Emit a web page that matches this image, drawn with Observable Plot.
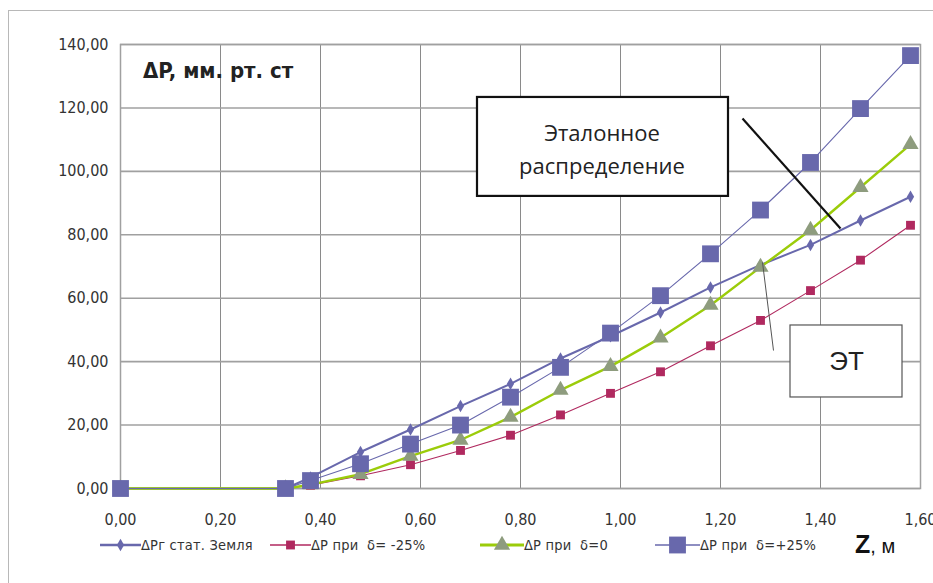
<!DOCTYPE html>
<html>
<head>
<meta charset="utf-8">
<script src="https://cdn.jsdelivr.net/npm/d3@7"></script>
<script src="https://cdn.jsdelivr.net/npm/@observablehq/plot@0.6"></script>
<style>
  html, body { margin: 0; padding: 0; background: #fff; }
  #wrap { position: relative; width: 933px; height: 583px; overflow: hidden; }
  #border { position: absolute; left: 8px; top: 10px; width: 940px; height: 590px; border: 1.5px solid #b8b8b8; box-sizing: border-box; }
  #chart { position: absolute; left: 0; top: 0; }
  #legend { position: absolute; left: 0; top: 532px; width: 933px; height: 30px; font-family: "DejaVu Sans Condensed", sans-serif; font-size: 14.5px; color: #333; letter-spacing: 0.2px; }
  .item { position: absolute; top: 0; display: flex; align-items: center; height: 26px; }
  #zlab { position: absolute; left: 855px; top: 530px; font-family: "Liberation Sans", Arial, sans-serif; color: #111; }
</style>
</head>
<body>
<div id="wrap">
  <div id="border"></div>
  <div id="chart"></div>
  <div id="legend"></div>
  <div id="zlab"><span style="font-size:25px;font-weight:bold;">Z</span><span style="font-size:20px;">, м</span></div>
</div>
<script>
// ---- data ----
const zValues = [0, 0.33, 0.38, 0.48, 0.58, 0.68, 0.78, 0.88, 0.98, 1.08, 1.18, 1.28, 1.38, 1.48, 1.58];
const earth   = [0, 0, 3.5, 11.5, 18.6, 26, 33, 41, 48, 55.5, 63.4, 70.5, 76.8, 84.5, 92];
const minus25 = [0, 0, 1, 4, 7.5, 12, 16.8, 23.2, 30, 36.8, 45, 53, 62.4, 72, 83];
const zero    = [0, 0, 1.2, 4.5, 10.2, 15.3, 22.5, 31, 38.5, 47.5, 57.8, 69.8, 81.5, 95, 108.5];
const plus25  = [0, 0, 2.5, 7.8, 14, 20, 28.8, 38.2, 49, 60.8, 74, 87.8, 102.8, 119.8, 136.5];
const seriesNames = ["ΔPг стат. Земля", "ΔP при  δ= -25%", "ΔP при  δ=0", "ΔP при  δ=+25%"];
const xTicks = [0, 0.2, 0.4, 0.6, 0.8, 1.0, 1.2, 1.4, 1.6];
const yTicks = [0, 20, 40, 60, 80, 100, 120, 140];
const yLabel = "ΔP, мм. рт. ст";
const boxLabels = ["Эталонное\nраспределение", "ЭТ"];

const styles = [
  {stroke: "#6868ac", width: 2,   symbol: "diamond", fill: "#6868ac", r: 3.8},
  {stroke: "#b0295f", width: 1.1, symbol: "square",  fill: "#b0295f", r: 5},
  {stroke: "#9bcc0a", width: 2.4, symbol: "triangle", fill: "#8e9c7e", r: 6},
  {stroke: "#6868ac", width: 1.1, symbol: "square",  fill: "#6868ac", r: 9.5}
];
const seriesValues = [earth, minus25, zero, plus25];
const rows = seriesValues.map((vals, i) => zValues.map((z, j) => ({z, v: vals[j], s: i})));

const fmt = d => d.toFixed(2).replace(".", ",");
const font = '"DejaVu Sans Condensed", sans-serif';

// annotation placement (data units)
const box1 = [{x1: 0.714, x2: 1.216, y1: 92.1, y2: 123.3}];
const box2 = [{x1: 1.34, x2: 1.564, y1: 28.7, y2: 51.4}];
const leader1 = [{x1: 1.244, y1: 116.7, x2: 1.44, y2: 82}];
const leader2 = [{x1: 1.306, y1: 43.5, x2: 1.284, y2: 71.3}];

const marks = [
  Plot.gridX(xTicks, {stroke: "#8a8a8a", strokeOpacity: 1, strokeWidth: 1}),
  Plot.gridY(yTicks, {stroke: "#a0a0a0", strokeOpacity: 1, strokeWidth: 1.6}),
  Plot.frame({stroke: "#a0a0a0", strokeWidth: 1.5}),
  Plot.axisX(xTicks, {tickSize: 0, tickPadding: 25, tickFormat: fmt, fontSize: 16, fill: "#333"}),
  Plot.axisY(yTicks, {tickSize: 0, tickPadding: 12, tickFormat: fmt, fontSize: 16, fill: "#333"}),
  Plot.text([yLabel], {x: 0.045, y: 131.6, text: d => d, textAnchor: "start", fontSize: 22, fontWeight: "bold", fill: "#222", fontFamily: font, letterSpacing: 0.7})
];
rows.forEach((data, i) => {
  const st = styles[i];
  marks.push(Plot.line(data, {x: "z", y: "v", stroke: st.stroke, strokeWidth: st.width}));
  marks.push(Plot.dot(data, {x: "z", y: "v", symbol: st.symbol, fill: st.fill, r: st.r, stroke: "none"}));
});
marks.push(
  Plot.link(leader1, {x1: "x1", y1: "y1", x2: "x2", y2: "y2", stroke: "#111", strokeWidth: 2.2}),
  Plot.link(leader2, {x1: "x1", y1: "y1", x2: "x2", y2: "y2", stroke: "#555", strokeWidth: 1}),
  Plot.rect(box1, {x1: "x1", x2: "x2", y1: "y1", y2: "y2", fill: "white", stroke: "#111", strokeWidth: 2.2}),
  Plot.rect(box2, {x1: "x1", x2: "x2", y1: "y1", y2: "y2", fill: "white", stroke: "#555", strokeWidth: 1.2}),
  Plot.text([boxLabels[0]], {x: 0.963, y: 107.7, text: d => d, fontSize: 22, lineHeight: 1.5, fill: "#222", fontFamily: '"Open Sans", sans-serif', letterSpacing: 1.3}),
  Plot.text([boxLabels[1]], {x: 1.452, y: 40, text: d => d, fontSize: 26, fill: "#222", fontFamily: '"Liberation Sans", Arial, sans-serif'})
);

const chart = Plot.plot({
  width: 933, height: 583,
  marginLeft: 120, marginRight: 13, marginTop: 44, marginBottom: 95,
  style: {fontFamily: font, background: "transparent", overflow: "visible"},
  x: {domain: [0, 1.6]},
  y: {domain: [0, 140]},
  marks
});
document.getElementById("chart").appendChild(chart);

// legend
const legendPos = [{sw: 100, tx: 141}, {sw: 270, tx: 311}, {sw: 480, tx: 524}, {sw: 655, tx: 700}];
const leg = d3.select("#legend");
seriesNames.forEach((name, i) => {
  const st = styles[i];
  const item = leg.append("div").attr("class", "item").style("left", legendPos[i].sw + "px");
  const w = legendPos[i].tx - legendPos[i].sw;
  const svg = item.append("svg").attr("width", w).attr("height", 26);
  svg.append("line").attr("x1", 0).attr("x2", w).attr("y1", 13).attr("y2", 13)
    .attr("stroke", st.stroke).attr("stroke-width", st.width + 0.6);
  const sym = {diamond: d3.symbolDiamond, square: d3.symbolSquare, triangle: d3.symbolTriangle}[st.symbol];
  svg.append("path").attr("transform", `translate(${w/2},13)`)
    .attr("d", d3.symbol(sym, Math.PI * st.r * st.r)()).attr("fill", st.fill);
  item.append("span").text(name).style("white-space", "pre");
});
</script>
</body>
</html>
